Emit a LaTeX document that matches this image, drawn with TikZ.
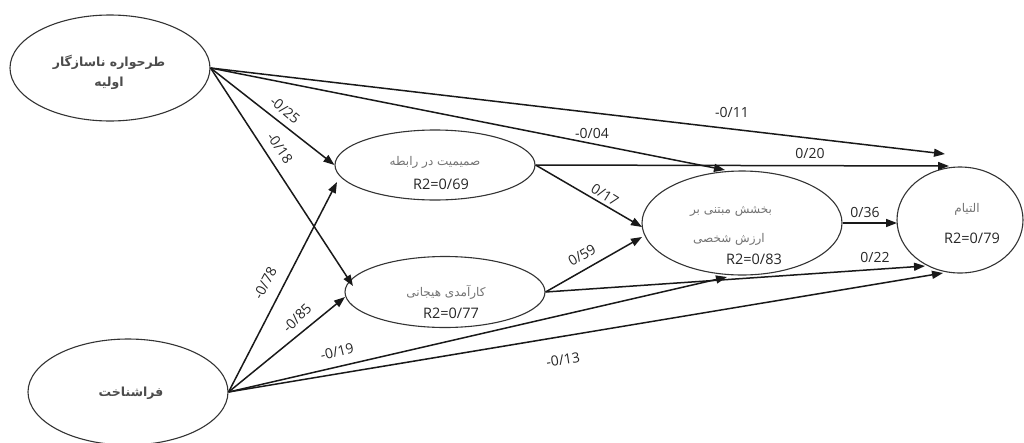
\documentclass[tikz,border=0pt]{standalone}
\usepackage{fontspec}
\setmainfont{Open Sans}
\newfontfamily\fa[Script=Arabic]{DejaVu Sans}
\TeXXeTstate=1
\usetikzlibrary{shapes.geometric,arrows.meta}
\begin{document}
\begin{tikzpicture}[x=1pt,y=-1pt,
  latent/.style={draw=black!80,line width=1.1pt,ellipse,inner sep=0pt},
  pathc/.style={draw=black!90,line width=1.5pt,-{Triangle[length=11pt,width=8pt]}},
  coef/.style={font=\fontsize{14}{16}\selectfont,text=black!85,inner sep=1pt},
  r2/.style={font=\fontsize{14.5}{16}\selectfont,text=black!85,inner sep=1pt},
  fatext/.style={font=\fa\fontsize{12}{14}\selectfont,text=black!55,inner sep=1pt},
  fadark/.style={font=\fa\bfseries\fontsize{12.5}{20}\selectfont,text=black!70,inner sep=1pt,align=center}]
\useasboundingbox (0,0) rectangle (1024,442);
% latent variables
\node[latent,minimum width=200pt,minimum height=106pt] (A) at (110,68) {};
\node[latent,minimum width=200pt,minimum height=106pt] (B) at (128,392) {};
\node[latent,minimum width=200pt,minimum height=70pt] (C) at (435,165) {};
\node[latent,minimum width=200pt,minimum height=71pt] (E) at (445,292) {};
\node[latent,minimum width=200pt,minimum height=104pt] (F) at (742,223) {};
\node[latent,minimum width=126pt,minimum height=106pt] (H) at (960,220) {};
% texts
\node[fadark] (At) at (109,72) {\beginR طرحواره ناسازگار\endR\\\beginR اولیه\endR};
\node[fadark] (Bt) at (131,393) {\beginR فراشناخت\endR};
\node[fatext] (Ct) at (435,162) {\beginR صمیمیت در رابطه\endR};
\node[r2] (Cr) at (441,184) {R2=0/69};
\node[fatext] (Et) at (446,292) {\beginR کارآمدی هیجانی\endR};
\node[r2] (Er) at (451,313) {R2=0/77};
\node[fatext] (Ft1) at (731,211) {\beginR بخشش مبتنی بر\endR};
\node[fatext] (Ft2) at (729,239) {\beginR ارزش شخصی\endR};
\node[r2] (Fr) at (754,259) {R2=0/83};
\node[fatext] (Ht) at (967,209) {\beginR التیام\endR};
\node[r2] (Hr) at (972,238) {R2=0/79};
% arrow tips
\coordinate (tAH) at (945,154);
\coordinate (tAF) at (725,170);
\coordinate (tAE) at (353,286);
\coordinate (tBC) at (337,182);
\coordinate (tBE) at (345,297);
\coordinate (tBF) at (727,277);
\coordinate (tBH) at (943,273);
\coordinate (tCF) at (642,227);
\coordinate (tCH) at (949,166);
\coordinate (tEF) at (642,237);
\coordinate (tEH) at (925,266);
\coordinate (tFH) at (897,223);
% paths
\draw[pathc] (A.east) -- (tAH);
\draw[pathc] (A.east) -- (tAF);
\draw[pathc] (A.east) -- (C.west);
\draw[pathc] (A.east) -- (tAE);
\draw[pathc] (B.east) -- (tBC);
\draw[pathc] (B.east) -- (tBE);
\draw[pathc] (B.east) -- (tBF);
\draw[pathc] (B.east) -- (tBH);
\draw[pathc] (C.east) -- (tCF);
\draw[pathc] (C.east) -- (tCH);
\draw[pathc] (E.east) -- (tEF);
\draw[pathc] (E.east) -- (tEH);
\draw[pathc] (F.east) -- (tFH);
% coefficients
\node[coef] (lAH) at (732,112) {-0/11};
\node[coef] (lAF) at (592,133) {-0/04};
\node[coef,rotate=-40] (lAC) at (285,110) {-0/25};
\node[coef,rotate=-55] (lAE) at (280,148) {-0/18};
\node[coef,rotate=62] (lBC) at (265,283) {-0/78};
\node[coef,rotate=45] (lBE) at (297,318) {-0/85};
\node[coef,rotate=14] (lBF) at (337,352) {-0/19};
\node[coef,rotate=9] (lBH) at (563,360) {-0/13};
\node[coef,rotate=-32] (lCF) at (605,195) {0/17};
\node[coef,rotate=30] (lEF) at (582,255) {0/59};
\node[coef] (lCH) at (810,153) {0/20};
\node[coef] (lFH) at (865,212) {0/36};
\node[coef] (lEH) at (875,257) {0/22};
\end{tikzpicture}
\end{document}
